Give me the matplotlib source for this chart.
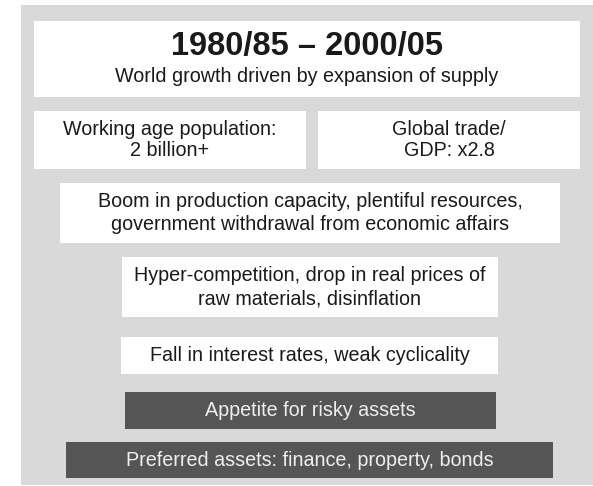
import matplotlib.pyplot as plt
from matplotlib.patches import Rectangle

plt.rcParams['font.family'] = ['Liberation Sans', 'DejaVu Sans']

# diagram content
title = "1980/85 \u2013 2000/05"
subtitle = "World growth driven by expansion of supply"
row_texts = [
    "Working age population:\n2 billion+",
    "Global trade/\nGDP: x2.8",
    "Boom in production capacity, plentiful resources,\ngovernment withdrawal from economic affairs",
    "Hyper-competition, drop in real prices of\nraw materials, disinflation",
    "Fall in interest rates, weak cyclicality",
    "Appetite for risky assets",
    "Preferred assets: finance, property, bonds",
]
dark_rows = [False, False, False, False, False, True, True]

# box layout in pixels (x0, x1, y0, y1) and line spacing per box
title_box = (34, 580, 21, 97)
boxes = [
    (34, 306, 111, 169),
    (318, 580, 111, 169),
    (60, 560, 183, 243),
    (122, 498, 257, 317),
    (121, 498, 337, 374),
    (125, 496, 392, 429),
    (66, 553, 442, 478),
]
spacing = [1.1, 1.1, 1.3, 1.3, 1.2, 1.2, 1.2]

W, H = 593, 486
fig = plt.figure(figsize=(W / 100, H / 100), dpi=100)
ax = fig.add_axes([0, 0, 1, 1])
ax.set_xlim(0, W)
ax.set_ylim(H, 0)
ax.axis('off')

bg = '#d9d9d9'
dark = '#555555'
ink = '#1a1a1a'
fs = 14.2

ax.add_patch(Rectangle((21, 5), W - 21, H - 6, facecolor=bg, edgecolor='none'))

x0, x1, y0, y1 = title_box
ax.add_patch(Rectangle((x0, y0), x1 - x0, y1 - y0, facecolor='white', edgecolor='none'))
ax.text((x0 + x1) / 2, 47, title, ha='center', va='center', fontsize=23.5,
        fontweight='bold', color=ink)
ax.text((x0 + x1) / 2, 77, subtitle, ha='center', va='center', fontsize=fs, color=ink)

for (x0, x1, y0, y1), txt, is_dark, ls in zip(boxes, row_texts, dark_rows, spacing):
    fc = dark if is_dark else 'white'
    tc = '#eeeeee' if is_dark else ink
    ax.add_patch(Rectangle((x0, y0), x1 - x0, y1 - y0, facecolor=fc, edgecolor='none'))
    ax.text((x0 + x1) / 2, (y0 + y1) / 2, txt, ha='center', va='center',
            fontsize=fs, color=tc, linespacing=ls)

fig.savefig('out.png', dpi=100)
